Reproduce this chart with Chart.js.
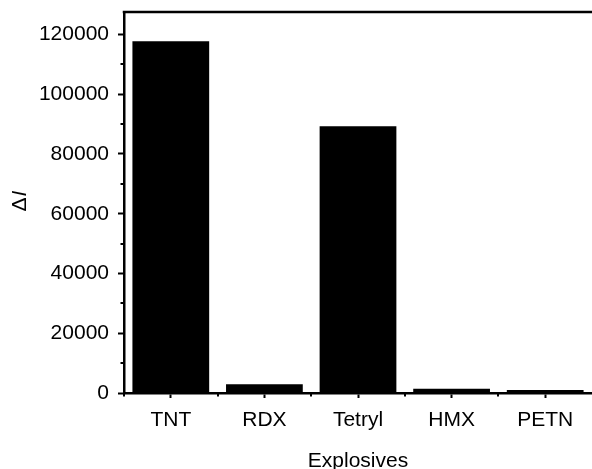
<!DOCTYPE html>
<html>
<head>
<meta charset="utf-8">
<script src="https://cdn.jsdelivr.net/npm/chart.js@4"></script>
<style>
  html, body { margin: 0; padding: 0; background: #fff; }
  #wrap { width: 592px; height: 469px; position: relative; }
</style>
</head>
<body>
<div id="wrap"><canvas id="chart"></canvas></div>
<script>
// Response of each explosive
const explosives = ['TNT', 'RDX', 'Tetryl', 'HMX', 'PETN'];
const deltaI = [117700, 2900, 89300, 1400, 1000];
// Labelled y ticks and the unlabelled ticks between them
const yMajorTicks = [0, 20000, 40000, 60000, 80000, 100000, 120000];
const yMinorTicks = [10000, 30000, 50000, 70000, 90000, 110000];
const yMax = 127500;

const FONT = 'Liberation Sans, Arial, Helvetica, sans-serif';
const FONT_SIZE = 21;

// Frame top edge, minor ticks and the ΔI axis title
const framePlugin = {
  id: 'frame',
  afterDraw(chart) {
    const { ctx, chartArea: a, scales: { x, y } } = chart;
    ctx.save();
    ctx.strokeStyle = '#000';
    ctx.lineCap = 'butt';

    // top edge
    ctx.lineWidth = 2.5;
    ctx.beginPath();
    ctx.moveTo(a.left - 1.25, a.top);
    ctx.lineTo(a.right, a.top);
    ctx.stroke();

    // minor x ticks at category boundaries
    ctx.lineWidth = 2;
    const n = explosives.length;
    const bounds = [a.left];
    for (let i = 0; i < n - 1; i++) {
      bounds.push((x.getPixelForValue(i) + x.getPixelForValue(i + 1)) / 2);
    }
    ctx.beginPath();
    bounds.forEach(px => {
      ctx.moveTo(Math.round(px), a.bottom);
      ctx.lineTo(Math.round(px), a.bottom + 3.5);
    });
    ctx.stroke();

    // minor y ticks
    ctx.beginPath();
    yMinorTicks.forEach(v => {
      const py = Math.round(y.getPixelForValue(v));
      ctx.moveTo(a.left, py);
      ctx.lineTo(a.left - 3.5, py);
    });
    ctx.stroke();

    // y title: upright Δ followed by italic I
    ctx.translate(20, 201);
    ctx.rotate(-Math.PI / 2);
    ctx.fillStyle = '#000';
    ctx.textBaseline = 'middle';
    ctx.font = FONT_SIZE + 'px ' + FONT;
    const d = 'Δ';
    const wD = ctx.measureText(d).width;
    ctx.font = 'italic ' + FONT_SIZE + 'px ' + FONT;
    const wI = ctx.measureText('I').width;
    const start = -(wD + wI + 1) / 2;
    ctx.font = FONT_SIZE + 'px ' + FONT;
    ctx.textAlign = 'left';
    ctx.fillText(d, start, 0);
    ctx.font = 'italic ' + FONT_SIZE + 'px ' + FONT;
    ctx.fillText('I', start + wD + 1, 0);
    ctx.restore();
  }
};

new Chart(document.getElementById('chart'), {
  type: 'bar',
  data: {
    labels: explosives,
    datasets: [{
      data: deltaI,
      backgroundColor: '#000',
      borderWidth: 0,
      categoryPercentage: 1,
      barPercentage: 0.82
    }]
  },
  options: {
    responsive: true,
    maintainAspectRatio: false,
    animation: false,
    layout: { padding: { left: 0, right: 0, top: 12, bottom: 0 } },
    plugins: { legend: { display: false }, tooltip: { enabled: false } },
    scales: {
      x: {
        offset: true,
        grid: {
          offset: false,
          drawOnChartArea: false,
          drawTicks: true,
          tickLength: 5,
          tickWidth: 2,
          tickColor: '#000'
        },
        border: { display: true, color: '#000', width: 2.5 },
        ticks: {
          color: '#000',
          padding: 10,
          font: { family: FONT, size: FONT_SIZE },
          maxRotation: 0
        },
        title: {
          display: true,
          text: 'Explosives',
          color: '#000',
          font: { family: FONT, size: FONT_SIZE, lineHeight: 1 },
          padding: { top: 0, bottom: -3 }
        },
        afterFit(scale) {
          scale.height = 76;
          scale.paddingLeft = 0;
          scale.paddingRight = 0;
        }
      },
      y: {
        min: 0,
        max: yMax,
        grid: {
          drawOnChartArea: false,
          drawTicks: true,
          tickLength: 6,
          tickWidth: 2,
          tickColor: '#000'
        },
        border: { display: true, color: '#000', width: 2.5 },
        ticks: {
          color: '#000',
          padding: 9,
          includeBounds: false,
          stepSize: 20000,
          font: { family: FONT, size: FONT_SIZE },
          callback: v => String(v)
        },
        afterBuildTicks(scale) {
          scale.ticks = yMajorTicks.map(v => ({ value: v }));
        },
        afterFit(scale) {
          scale.width = 124;
          scale.paddingTop = 0;
          scale.paddingBottom = 0;
        }
      }
    }
  },
  plugins: [framePlugin]
});
</script>
</body>
</html>
